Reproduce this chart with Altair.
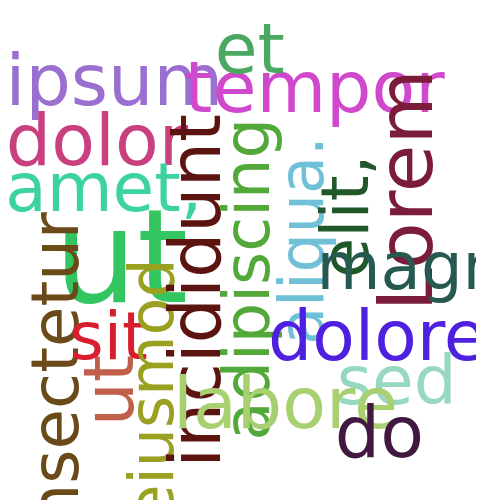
import altair as alt
import pandas as pd

words  = ["ipsum","tempor","et","dolor","amet,","ut","consectetur","ut","sit","eiusmod","incididunt","adipiscing","aliqua.","elit,","Lorem","magna","dolore","sed","labore","do"]
xs     = [118,325,258,100,107,125,60,115,112,160,205,258,315,360,422,445,390,410,295,392]
ys     = [78,85,45,140,188,262,412,395,342,395,292,280,240,215,188,270,342,388,412,442]
sizes  = [74,74,72,74,70,135,68,72,68,64,74,66,64,68,80,68,72,70,74,74]
angles = [0,0,0,0,0,0,270,270,0,270,270,270,270,270,270,0,0,0,0,0]
colors = ["#9a6fcf","#d048cc","#4aa860","#c8407f","#3dd3a0","#33c55f","#6b4a1a","#c0604a","#d81e2e","#9aa020","#5c1410","#52a838","#70c0d8","#20582a","#7a1c3a","#265a50","#5020e0","#98d8c0","#a8d070","#401840"]

df = pd.DataFrame({"w":words,"x":xs,"y":ys,"s":sizes,"a":angles,"c":colors})

chart = alt.Chart(df).mark_text(font="DejaVu Sans", baseline="middle", align="center").encode(
    x=alt.X("x:Q", scale=alt.Scale(domain=[8,492]), axis=None),
    y=alt.Y("y:Q", scale=alt.Scale(domain=[508,8]), axis=None),
    text="w:N",
    size=alt.Size("s:Q", scale=None, legend=None),
    angle=alt.Angle("a:Q", scale=None),
    color=alt.Color("c:N", scale=None, legend=None),
).properties(width=484, height=500, autosize=alt.AutoSizeParams(type="none"), padding=0).configure_view(stroke=None)

chart.save("out.html", embed_options={"renderer": "svg", "actions": False})
